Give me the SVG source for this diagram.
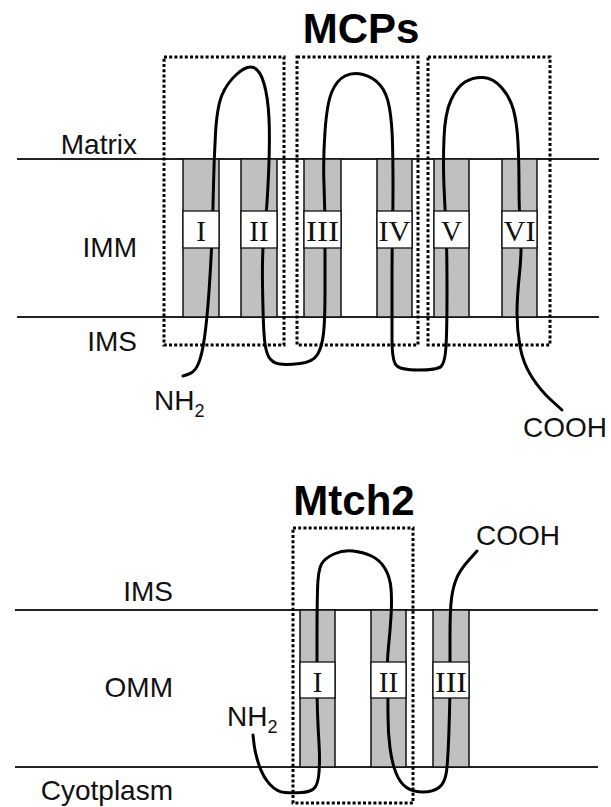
<svg xmlns="http://www.w3.org/2000/svg" width="611" height="807" viewBox="0 0 611 807">
<style>
.mem{stroke:#222;stroke-width:2;fill:none}
.helix{fill:#c0c0c0;stroke:#111;stroke-width:1.5}
.lbox{fill:#fff;stroke:#111;stroke-width:1.3}
.num{font-family:"Liberation Serif","Times New Roman",serif;font-size:29px;fill:#111;text-anchor:middle}
.dom{fill:none;stroke:#000;stroke-width:3;stroke-dasharray:3 2.2}
.chain{fill:none;stroke:#000;stroke-width:3;stroke-linecap:round;stroke-linejoin:round}
.lab{font-family:"Liberation Sans",Arial,sans-serif;font-size:28px;fill:#111}
.title{font-family:"Liberation Sans",Arial,sans-serif;font-size:42px;font-weight:bold;fill:#000;text-anchor:middle}
.sub{font-size:18px}
</style>
<rect width="611" height="807" fill="#fff"/>

<g id="mcps-membrane">
<line class="mem" x1="17" y1="159" x2="599" y2="159"/>
<line class="mem" x1="17" y1="317" x2="599" y2="317"/>
</g>
<g id="mcps-helix-I"><rect class="helix" x="183" y="159" width="36" height="158"/></g>
<g id="mcps-helix-II"><rect class="helix" x="241" y="159" width="36" height="158"/></g>
<g id="mcps-helix-III"><rect class="helix" x="304" y="159" width="37" height="158"/></g>
<g id="mcps-helix-IV"><rect class="helix" x="377" y="159" width="35" height="158"/></g>
<g id="mcps-helix-V"><rect class="helix" x="434" y="159" width="35" height="158"/></g>
<g id="mcps-helix-VI"><rect class="helix" x="502" y="159" width="35" height="158"/></g>

<g id="mtch2-membrane">
<line class="mem" x1="15" y1="610" x2="598" y2="610"/>
<line class="mem" x1="15" y1="767" x2="598" y2="767"/>
</g>
<g id="mtch2-helix-I"><rect class="helix" x="300" y="610" width="35" height="157"/></g>
<g id="mtch2-helix-II"><rect class="helix" x="371" y="610" width="35" height="157"/></g>
<g id="mtch2-helix-III"><rect class="helix" x="433" y="610" width="36" height="157"/></g>

<g id="connectors">
<path class="chain" d="M183,376 L189,374 Q195,372 198.5,363.5 Q202,355 204.5,337.5 Q207,320 209,291.5 Q211,263 212,236.5 Q213,210 213.5,185 Q214,160 215.5,133.5 Q217,107 222,95 Q227,83 237,74 Q247,65 253.5,67.5 Q260,70 264,83.5 Q268,97 269,118.5 Q270,140 268.5,175 Q267,210 264.5,230 Q262,250 262.5,283.5 Q263,317 264,333.5 Q265,350 268.5,356.5 Q272,363 279.5,364 Q287,365 300,363.5 Q313,362 317.5,354.5 Q322,347 323.5,333.5 Q325,320 325,291.5 Q325,263 325,236.5 Q325,210 324,185 Q323,160 325,131.5 Q327,103 332,91.5 Q337,80 345,76 Q353,72 363,74.5 Q373,77 380,85 Q387,93 389.5,108 Q392,123 392.5,143 Q393,163 393,186.5 Q393,210 392.5,230 Q392,250 392,283.5 Q392,317 392,338.5 Q392,360 396,365 Q400,370 418.5,370 Q437,370 441,366.5 Q445,363 446,346.5 Q447,330 447,290 Q447,250 446,230 Q445,210 444,186.5 Q443,163 444,138 Q445,113 451,100 Q457,87 465,82 Q473,77 483,77.5 Q493,78 501.5,87.5 Q510,97 513.5,110 Q517,123 518,143 Q519,163 519,186.5 Q519,210 520.5,230 Q522,250 519.5,273.5 Q517,297 517,313.5 Q517,330 520,346.5 Q523,363 531.5,376.5 Q540,390 551,400 L562,410"/>
<path class="chain" d="M253,735 L254,744 Q255,753 259,765 Q263,777 270,784.5 Q277,792 285,792.5 Q293,793 301.5,792.5 Q310,792 314,788.5 Q318,785 319,772.5 Q320,760 319,743.5 Q318,727 317.5,712.5 Q317,698 317,680 Q317,662 317,636 Q317,610 317.5,590 Q318,570 321.5,564 Q325,558 334,554 Q343,550 353,551 Q363,552 371.5,556 Q380,560 385,568.5 Q390,577 391,588.5 Q392,600 391,616.5 Q390,633 388.5,646.5 Q387,660 387.5,679 Q388,698 388,715.5 Q388,733 390,748 Q392,763 396,773 Q400,783 406.5,787.5 Q413,792 423,792 Q433,792 439,787.5 Q445,783 446.5,771.5 Q448,760 449,729 Q450,698 450,680 Q450,662 450,636 Q450,610 451.5,598.5 Q453,587 456.5,578.5 Q460,570 468.5,560.5 L477,551"/>
</g>

<g id="mcps-label-I"><rect class="lbox" x="183" y="211" width="36" height="37"/><text class="num" x="201" y="241">I</text></g>
<g id="mcps-label-II"><rect class="lbox" x="241" y="211" width="36" height="37"/><text class="num" x="259" y="241">II</text></g>
<g id="mcps-label-III"><rect class="lbox" x="304" y="211" width="37" height="37"/><text class="num" x="322.5" y="241" textLength="33" lengthAdjust="spacingAndGlyphs">III</text></g>
<g id="mcps-label-IV"><rect class="lbox" x="377" y="211" width="35" height="37"/><text class="num" x="394.5" y="241" textLength="32" lengthAdjust="spacingAndGlyphs">IV</text></g>
<g id="mcps-label-V"><rect class="lbox" x="434" y="211" width="35" height="37"/><text class="num" x="451.5" y="241">V</text></g>
<g id="mcps-label-VI"><rect class="lbox" x="502" y="211" width="35" height="37"/><text class="num" x="519.5" y="241" textLength="32" lengthAdjust="spacingAndGlyphs">VI</text></g>

<g id="mtch2-label-I"><rect class="lbox" x="300" y="662" width="35" height="36"/><text class="num" x="317.5" y="692">I</text></g>
<g id="mtch2-label-II"><rect class="lbox" x="371" y="662" width="35" height="36"/><text class="num" x="388.5" y="692">II</text></g>
<g id="mtch2-label-III"><rect class="lbox" x="433" y="662" width="36" height="36"/><text class="num" x="451" y="692" textLength="32" lengthAdjust="spacingAndGlyphs">III</text></g>

<g id="mcps-domain-1"><rect class="dom" x="164" y="57" width="120" height="288"/></g>
<g id="mcps-domain-2"><rect class="dom" x="297" y="57" width="121" height="288"/></g>
<g id="mcps-domain-3"><rect class="dom" x="428" y="57" width="122" height="288"/></g>
<g id="mtch2-domain"><rect class="dom" x="293" y="528" width="120" height="275"/></g>

<g id="titles">
<text class="title" x="361" y="43">MCPs</text>
<text class="title" x="354" y="515">Mtch2</text>
</g>

<g id="labels">
<text class="lab" x="137" y="154" text-anchor="end">Matrix</text>
<text class="lab" x="137" y="257" text-anchor="end">IMM</text>
<text class="lab" x="137" y="351" text-anchor="end">IMS</text>
<text class="lab" x="154" y="410">NH<tspan class="sub" dy="7">2</tspan></text>
<text class="lab" x="523" y="437">COOH</text>
<text class="lab" x="173" y="601" text-anchor="end">IMS</text>
<text class="lab" x="173" y="697" text-anchor="end">OMM</text>
<text class="lab" x="173" y="800" text-anchor="end">Cyotplasm</text>
<text class="lab" x="227" y="726">NH<tspan class="sub" dy="7">2</tspan></text>
<text class="lab" x="476" y="545">COOH</text>
</g>
</svg>
